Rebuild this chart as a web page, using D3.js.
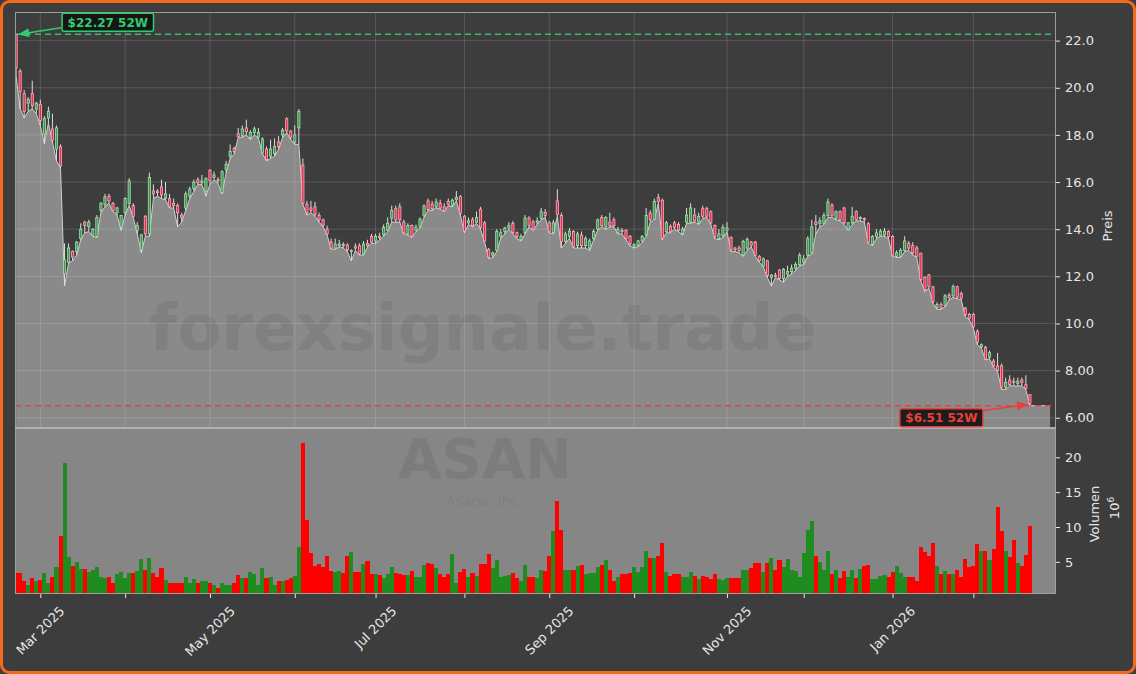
<!DOCTYPE html>
<meta charset="utf-8">
<style>
body { margin: 0; background: #3d3d3d; }
svg { display: block; font-family: "DejaVu Sans", sans-serif; }
.axis path { display: none; }
.axis line { stroke: #e6e6e6; }
.axis text { fill: #e6e6e6; font-size: 13px; font-family: "DejaVu Sans", sans-serif; }
</style>
<body>
<script src="https://cdn.jsdelivr.net/npm/d3@7"></script>
<script>
// ASAN daily bars, first session 2025-02-21
var startDate = "2025-02-21";
var holidays = ["2025-04-18","2025-05-26","2025-06-19","2025-07-04","2025-09-01",
  "2025-11-27","2025-12-25","2026-01-01","2026-01-19","2026-02-16"];

var open = [22.27,20.7,19.75,19.35,19.75,19.09,19.3,18.02,18.72,18.25,
17.4,17.5,12.1,12.6,13.05,13.06,13.6,14.3,14.1,13.75,
13.7,14.8,15.06,15.4,15.1,14.7,14.1,14.7,15.1,15.0,
13.95,13.13,14.55,13.8,15.62,15.62,15.8,15.3,15.3,15.1,
15.0,14.6,14.9,15.4,15.72,16.1,15.97,15.62,16.5,16.2,
16.1,15.56,16.53,17.1,17.42,18.05,17.98,18.3,17.9,18.1,
17.9,17.23,17.4,17.1,17.2,17.7,18.0,18.68,18.17,17.7,
18.3,16.72,15.06,14.9,14.95,14.58,14.4,14.0,13.45,13.2,
13.3,13.35,13.33,13.05,13.26,13.3,12.95,13.4,13.69,13.5,
13.7,13.76,13.95,14.47,14.87,14.95,14.3,13.8,14.16,13.95,
14.11,14.58,15.2,15.06,14.95,15.1,14.95,15.18,15.02,15.25,
15.38,14.55,14.27,14.4,14.3,14.85,14.27,13.13,12.9,13.1,
13.7,13.9,14.05,14.24,13.85,13.55,13.85,14.47,14.3,14.3,
14.47,14.71,14.27,13.85,15.2,14.58,13.48,13.7,13.9,13.3,
13.75,13.3,13.2,13.6,14.0,14.5,14.1,14.3,14.4,13.85,
13.95,13.95,13.7,13.25,13.3,13.5,13.76,14.68,14.43,15.34,
15.23,13.9,14.11,14.27,14.2,13.8,14.3,14.3,14.6,14.3,
14.87,14.87,14.74,14.16,13.6,13.73,13.95,13.64,13.2,13.2,
12.9,13.2,13.45,13.45,12.85,12.43,12.66,11.95,12.05,12.27,
11.9,12.1,12.2,12.35,12.5,12.6,12.9,13.0,14.3,14.25,
14.24,14.58,15.02,14.47,14.74,14.9,14.0,14.27,14.74,14.45,
14.45,14.23,13.37,13.69,13.73,13.76,13.9,13.69,12.85,12.85,
13.1,13.4,13.3,13.2,12.98,11.95,12.06,11.55,10.68,10.8,
10.77,11.2,11.17,11.56,11.27,10.65,10.38,10.38,9.67,9.0,
8.99,8.57,8.4,8.2,8.2,7.3,7.6,7.55,7.45,7.6,
7.4,6.98];

var high = [22.27,20.8,19.9,19.6,20.3,19.4,19.5,18.8,19.2,18.9,
18.4,17.6,13.4,13.4,13.1,13.5,14.25,14.35,14.4,14.05,
14.6,15.15,15.5,15.5,15.15,14.95,14.6,15.35,16.16,15.1,
14.3,13.8,14.6,16.4,15.9,15.7,16.1,16.0,15.5,15.3,
15.1,14.7,15.6,15.8,16.1,16.2,16.3,16.2,16.55,16.45,
16.2,16.5,16.9,17.6,17.5,18.3,18.4,18.65,18.2,18.35,
18.3,17.9,17.5,17.8,17.85,17.95,18.3,18.75,18.2,18.4,
19.1,17.0,15.2,15.2,15.15,14.7,14.45,14.15,13.6,13.6,
13.55,13.45,13.4,13.15,13.4,13.4,13.5,13.55,13.8,13.8,
13.85,14.2,14.5,15.0,15.0,15.1,14.4,14.25,14.2,14.2,
14.5,15.05,15.3,15.2,15.3,15.25,15.1,15.3,15.3,15.62,
15.45,14.6,14.5,14.5,14.75,14.95,14.35,13.2,13.05,14.0,
14.0,14.1,14.3,14.35,13.9,13.8,14.6,14.55,14.4,14.5,
14.9,14.85,14.35,14.4,15.7,14.7,13.9,14.05,13.95,13.9,
13.9,13.7,13.6,14.0,14.45,14.6,14.55,14.7,14.5,14.1,
14.05,14.0,13.75,13.4,13.55,13.75,14.9,14.8,15.3,15.5,
15.3,14.35,14.2,14.35,14.3,14.1,14.9,15.1,14.9,14.7,
15.0,14.95,14.8,14.2,14.0,14.2,14.3,13.7,13.25,13.3,
13.55,13.65,13.5,13.5,12.9,12.8,12.7,12.1,12.15,12.3,
12.35,12.45,12.5,12.6,13.0,12.9,13.7,14.4,14.6,14.5,
14.7,15.3,15.1,14.8,14.8,14.95,14.3,14.95,14.8,14.55,
14.5,14.3,13.75,14.0,14.0,14.05,13.95,13.75,13.1,13.2,
13.7,13.5,13.45,13.3,13.0,12.0,12.1,11.6,10.9,10.9,
11.25,11.3,11.65,11.6,11.35,10.7,10.45,10.45,9.75,9.15,
9.05,8.85,8.5,8.75,8.3,7.7,7.8,7.7,7.7,7.7,
7.8,7.0];

var low = [20.5,19.1,18.72,19.0,19.1,18.9,18.4,17.62,18.5,17.7,
16.9,16.6,11.59,12.55,12.66,12.9,13.55,13.85,13.9,13.7,
13.65,14.7,14.95,15.1,14.75,14.6,13.95,14.6,15.0,14.5,
13.8,13.0,13.7,13.7,15.3,15.4,15.3,15.25,14.9,14.9,
14.1,14.3,14.8,15.3,15.6,15.9,15.9,15.4,15.9,16.1,
15.95,15.5,16.4,17.0,17.2,17.9,17.9,18.0,17.8,18.0,
17.85,17.2,16.9,17.0,17.1,17.4,17.9,18.1,17.8,17.6,
17.6,15.05,14.6,14.7,14.55,14.3,14.1,13.75,13.15,13.15,
13.25,13.2,13.05,12.66,13.1,12.9,12.9,13.25,13.4,13.4,
13.55,13.7,13.9,14.3,14.3,14.3,13.8,13.75,13.65,13.9,
14.05,14.5,14.8,14.8,14.9,14.85,14.75,15.0,14.95,15.2,
14.6,13.85,14.2,14.1,14.25,14.0,13.45,12.75,12.8,13.05,
13.6,13.8,14.0,13.8,13.6,13.5,13.8,14.1,13.95,14.2,
14.4,14.5,13.85,13.8,14.55,13.2,13.4,13.6,13.2,13.2,
13.2,13.2,13.1,13.55,13.95,14.1,14.0,14.1,14.1,13.8,
13.8,13.55,13.3,13.2,13.25,13.45,13.7,14.3,14.4,15.1,
13.55,13.85,13.85,14.0,13.9,13.75,14.25,14.25,14.3,14.2,
14.45,14.5,14.2,13.6,13.55,13.65,13.9,13.05,13.05,13.0,
12.85,13.1,13.25,12.85,12.6,12.4,11.95,11.59,11.95,11.85,
11.75,12.0,12.1,12.25,12.45,12.5,12.85,12.95,13.8,14.1,
14.2,14.5,14.5,14.4,14.35,14.2,13.95,14.2,14.35,14.35,
14.3,13.4,13.3,13.6,13.7,13.7,13.6,12.85,12.8,12.8,
13.05,13.1,12.9,12.8,11.8,11.35,11.5,10.85,10.6,10.6,
10.7,11.0,11.1,11.05,11.0,10.3,10.15,9.8,9.1,8.95,
8.45,8.5,8.15,7.95,7.2,7.2,7.35,7.35,7.35,7.35,
7.2,6.51];

var close = [20.85,19.83,19.0,19.51,19.24,19.35,18.61,18.7,19.0,17.78,
18.3,16.68,12.7,13.2,12.82,13.45,14.0,14.16,14.3,14.0,
14.5,15.1,15.37,15.2,14.8,14.9,14.58,15.3,16.05,14.55,
14.15,13.76,13.8,16.2,15.5,15.55,15.45,15.5,14.95,15.0,
14.7,14.5,15.5,15.7,16.0,15.97,16.05,16.16,16.06,16.3,
16.06,16.44,16.75,17.3,17.3,17.94,18.25,18.14,18.1,18.25,
18.1,17.83,16.95,17.4,17.5,17.5,18.2,18.17,17.9,18.0,
19.0,15.1,14.7,14.8,14.63,14.4,14.16,13.8,13.2,13.37,
13.37,13.3,13.13,13.1,13.2,12.95,13.37,13.3,13.45,13.7,
13.65,14.08,14.25,14.79,14.4,14.4,13.85,14.16,13.7,14.08,
14.43,14.99,14.83,14.87,15.15,14.9,14.8,15.06,15.23,15.35,
14.68,13.92,14.36,14.16,14.5,14.08,13.5,12.82,13.0,13.9,
13.85,14.05,14.16,13.85,13.69,13.69,14.47,14.16,14.0,14.35,
14.74,14.58,13.9,14.27,14.63,13.48,13.8,13.92,13.26,13.8,
13.3,13.6,13.5,13.9,14.4,14.15,14.5,14.15,14.15,14.0,
13.9,13.6,13.37,13.35,13.5,13.69,14.58,14.4,15.18,15.18,
13.61,14.27,13.9,14.08,13.95,14.0,14.6,14.9,14.35,14.55,
14.55,14.55,14.27,13.69,13.8,14.08,14.05,13.13,13.13,13.1,
13.48,13.57,13.32,12.9,12.66,12.74,12.03,12.05,12.0,11.9,
12.3,12.2,12.35,12.5,12.9,12.75,13.6,14.1,14.2,14.35,
14.58,15.15,14.58,14.74,14.4,14.27,14.27,14.55,14.4,14.5,
14.4,13.45,13.69,13.84,13.92,13.92,13.69,12.9,13.0,13.1,
13.5,13.2,13.0,12.85,11.87,11.43,11.56,10.93,10.8,10.65,
11.17,11.1,11.56,11.12,11.08,10.38,10.22,9.86,9.2,9.1,
8.49,8.76,8.2,8.0,7.3,7.5,7.4,7.5,7.55,7.5,
7.25,6.6];

// volume in millions of shares
var volume = [3.4,3.4,2.3,1.65,2.75,2.3,2.45,3.44,2.0,2.9,
4.3,8.7,19.15,5.7,4.43,5.0,4.0,4.0,3.6,3.9,
4.3,2.9,2.75,2.9,2.0,3.3,3.6,2.75,3.44,3.44,
3.7,5.4,3.9,5.57,3.44,2.9,4.15,2.45,2.0,2.0,
1.9,1.9,2.9,2.0,2.6,1.9,2.2,2.3,1.9,1.75,
1.3,2.0,1.75,1.75,2.0,3.15,2.75,2.75,3.6,3.3,
1.75,4.15,2.75,2.9,1.75,2.3,2.3,2.45,2.75,3.0,
7.1,22.0,11.05,6.3,4.45,4.75,4.2,5.8,3.7,3.6,
3.7,3.4,5.8,6.4,3.5,3.6,4.7,5.1,3.3,3.3,
3.15,2.7,3.3,4.25,3.45,3.3,3.15,3.15,3.7,2.9,
2.9,4.5,4.8,4.7,4.1,3.3,2.8,3.3,6.1,2.0,
3.6,4.0,2.8,3.4,3.0,4.7,4.7,6.1,4.1,5.3,
2.8,3.0,3.15,3.4,2.7,2.3,4.5,2.9,2.9,2.7,
3.85,3.7,5.8,9.4,13.8,9.6,3.9,3.9,3.9,4.4,
4.6,3.2,3.4,3.45,4.25,4.6,5.2,3.85,2.3,2.8,
3.3,3.3,3.45,4.25,3.6,4.25,6.6,5.5,5.5,5.8,
7.65,3.5,3.0,3.3,3.2,2.8,2.8,3.5,3.0,2.5,
3.0,2.8,2.6,3.3,2.5,2.4,2.7,2.7,2.7,2.7,
3.85,3.85,4.1,4.9,4.9,3.6,4.9,5.5,3.85,5.2,
4.25,5.4,3.9,3.7,2.8,6.2,9.5,10.9,5.8,5.0,
3.9,6.55,3.3,3.85,2.7,3.7,2.8,3.85,2.7,4.0,
4.4,4.6,2.5,2.5,3.0,3.15,2.9,3.6,4.4,3.45,
2.8,2.8,2.8,2.3,7.1,6.45,5.8,7.7,4.4,3.2,
3.7,3.2,3.3,3.9,2.9,5.4,4.3,4.4,7.5,6.55,
6.55,5.3,6.85,12.8,9.4,6.55,5.7,8.1,4.9,4.4,
6.0,10.2];

var priceTicks = [6, 8, 10, 12, 14, 16, 18, 20, 22];
var volumeTicks = [5, 10, 15, 20];

// trading days
var fmtDay = d3.timeFormat("%Y-%m-%d");
var dates = [];
var dd = new Date(startDate + "T12:00:00");
while (dates.length < close.length) {
  var wd = dd.getDay();
  if (wd !== 0 && wd !== 6 && holidays.indexOf(fmtDay(dd)) < 0) dates.push(new Date(dd));
  dd.setDate(dd.getDate() + 1);
}
var n = close.length;
var idx = d3.range(n);
var monthIdx = idx.filter(function(i) { return i > 0 && dates[i].getMonth() !== dates[i - 1].getMonth(); });

var W = 1136, H = 674;
var plotL = 15, plotR = 1056, priceT = 12, priceB = 428, volB = 594;

var x = d3.scaleLinear().domain([-0.27, n + 5.46]).range([plotL, plotR]);
var lo = d3.min(low), hi = d3.max(high), pad = (hi - lo) * 0.06;
var y = d3.scaleLinear().domain([lo - pad, hi + pad]).range([priceB, priceT]);
var yv = d3.scaleLinear().domain([0.3 * d3.min(volume), 1.1 * d3.max(volume)]).range([volB, priceB]);
var iHi = high.indexOf(hi), iLo = low.indexOf(lo);
function up(i) { return close[i] >= open[i]; }

var svg = d3.select("body").append("svg").attr("width", W).attr("height", H);
svg.append("rect").attr("width", W).attr("height", H).attr("fill", "#3d3d3d");

var defs = svg.append("defs");
defs.append("clipPath").attr("id", "clipPrice").append("rect")
  .attr("x", plotL).attr("y", priceT).attr("width", plotR - plotL).attr("height", priceB - priceT);
defs.append("clipPath").attr("id", "clipVol").append("rect")
  .attr("x", plotL).attr("y", priceB).attr("width", plotR - plotL).attr("height", volB - priceB);
[["arrowG", "#2ecc71"], ["arrowR", "#e8403a"]].forEach(function(m) {
  defs.append("marker").attr("id", m[0]).attr("viewBox", "0 0 10 10").attr("refX", 9).attr("refY", 5)
    .attr("markerWidth", 7).attr("markerHeight", 7).attr("orient", "auto")
    .append("path").attr("d", "M0,1 L10,5 L0,9 z").attr("fill", m[1]);
});

// ---- price panel
var pg = svg.append("g").attr("clip-path", "url(#clipPrice)");

var areaPts = idx.map(function(i) { return [i, low[i]]; }).concat([[n - 1 + 5, low[n - 1]]]);
pg.append("path").datum(areaPts)
  .attr("d", d3.area().x(function(d) { return x(d[0]); }).y0(priceB).y1(function(d) { return y(d[1]); }))
  .attr("fill", "#8a8a8a");
pg.append("path").datum(areaPts)
  .attr("d", d3.line().x(function(d) { return x(d[0]); }).y(function(d) { return y(d[1]); }))
  .attr("fill", "none").attr("stroke", "#cfcfcf").attr("stroke-width", 1);

// grid
pg.selectAll("line.hg").data(priceTicks).join("line").attr("class", "hg")
  .attr("x1", plotL).attr("x2", plotR).attr("y1", function(d) { return y(d); }).attr("y2", function(d) { return y(d); })
  .attr("stroke", "#fff").attr("stroke-opacity", 0.14);
pg.selectAll("line.vg").data(monthIdx).join("line").attr("class", "vg")
  .attr("x1", function(i) { return x(i); }).attr("x2", function(i) { return x(i); })
  .attr("y1", priceT).attr("y2", priceB)
  .attr("stroke", "#fff").attr("stroke-opacity", 0.14);

pg.append("text").attr("x", 483).attr("y", 350).attr("text-anchor", "middle")
  .attr("font-size", 64).attr("font-weight", "bold").attr("fill", "#000").attr("fill-opacity", 0.07)
  .text("forexsignale.trade");

// 52W lines
pg.append("line").attr("x1", plotL).attr("x2", plotR).attr("y1", y(hi)).attr("y2", y(hi))
  .attr("stroke", "#3cb86a").attr("stroke-width", 1.5).attr("stroke-dasharray", "6,4");
pg.append("line").attr("x1", plotL).attr("x2", plotR).attr("y1", y(lo)).attr("y2", y(lo))
  .attr("stroke", "#dd4444").attr("stroke-width", 1.5).attr("stroke-dasharray", "6,4");

// candles
pg.selectAll("line.wick").data(idx).join("line").attr("class", "wick")
  .attr("x1", function(i) { return x(i); }).attr("x2", function(i) { return x(i); })
  .attr("y1", function(i) { return y(high[i]); }).attr("y2", function(i) { return y(low[i]); })
  .attr("stroke", "#dedede").attr("stroke-width", 1);
pg.selectAll("rect.body").data(idx).join("rect").attr("class", "body")
  .attr("x", function(i) { return x(i) - 1.1; }).attr("width", 2.2)
  .attr("y", function(i) { return y(Math.max(open[i], close[i])); })
  .attr("height", function(i) { return Math.max(1, Math.abs(y(open[i]) - y(close[i]))); })
  .attr("fill", function(i) { return up(i) ? "#4f8a5c" : "#e0304f"; })
  .attr("stroke", function(i) { return up(i) ? "#9be7a6" : "#ffa9bb"; })
  .attr("stroke-width", 0.8);

svg.append("rect").attr("x", plotL + 0.5).attr("y", priceT + 0.5)
  .attr("width", plotR - plotL - 1).attr("height", priceB - priceT - 1)
  .attr("fill", "none").attr("stroke", "#9c9c9c");

// ---- volume panel
svg.append("rect").attr("x", plotL).attr("y", priceB).attr("width", plotR - plotL).attr("height", volB - priceB)
  .attr("fill", "#868686");
var vg = svg.append("g").attr("clip-path", "url(#clipVol)");
vg.append("text").attr("x", 485).attr("y", 478).attr("text-anchor", "middle")
  .attr("font-size", 56).attr("font-weight", "bold").attr("fill", "#000").attr("fill-opacity", 0.07).text("ASAN");
vg.append("text").attr("x", 482).attr("y", 506).attr("text-anchor", "middle")
  .attr("font-size", 14).attr("fill", "#000").attr("fill-opacity", 0.07).text("Asana, Inc");
vg.selectAll("rect.vol").data(idx).join("rect").attr("class", "vol")
  .attr("x", function(i) { return x(i - 0.5); }).attr("width", x(1) - x(0))
  .attr("y", function(i) { return yv(volume[i]); })
  .attr("height", function(i) { return volB - yv(volume[i]); })
  .attr("fill", function(i) { return up(i) ? "#1f8c1f" : "#ff0000"; })
  .attr("shape-rendering", "crispEdges");
svg.append("rect").attr("x", plotL + 0.5).attr("y", priceB).attr("width", plotR - plotL - 1).attr("height", volB - priceB - 0.5)
  .attr("fill", "none").attr("stroke", "#a0a0a0");
svg.append("line").attr("x1", plotL).attr("x2", plotR).attr("y1", priceB).attr("y2", priceB)
  .attr("stroke", "#b0b0b0").attr("stroke-width", 2);

// ---- axes
svg.append("g").attr("class", "axis").attr("transform", "translate(" + plotR + ",0)")
  .call(d3.axisRight(y).tickValues(priceTicks).tickFormat(d3.format(".3r")).tickSize(4).tickPadding(5));
svg.append("g").attr("class", "axis").attr("transform", "translate(" + plotR + ",0)")
  .call(d3.axisRight(yv).tickValues(volumeTicks).tickFormat(d3.format("d")).tickSize(4).tickPadding(5));

var fmtMonth = d3.timeFormat("%b %Y");
var xg = svg.append("g").attr("class", "axis").attr("transform", "translate(0," + volB + ")")
  .call(d3.axisBottom(x).tickValues(monthIdx).tickFormat("").tickSize(4));
monthIdx.filter(function(i) { return dates[i].getMonth() % 2 === 0; }).forEach(function(i) {
  var t = xg.append("text").attr("text-anchor", "middle").attr("dominant-baseline", "central")
    .attr("fill", "#e6e6e6").attr("font-size", 13).text(fmtMonth(dates[i]));
  var len = t.node().getComputedTextLength();
  var cy = 10 + (len + 13) * 0.7071 / 2;
  t.attr("transform", "translate(" + x(i) + "," + cy + ") rotate(-45)");
});

svg.append("text").attr("transform", "translate(1112,226) rotate(-90)").attr("text-anchor", "middle")
  .attr("fill", "#e6e6e6").attr("font-size", 13).text("Preis");
svg.append("text").attr("transform", "translate(1099,514) rotate(-90)").attr("text-anchor", "middle")
  .attr("fill", "#e6e6e6").attr("font-size", 13).text("Volumen");
var off = svg.append("text").attr("transform", "translate(1119,508) rotate(-90)").attr("text-anchor", "middle")
  .attr("fill", "#e6e6e6").attr("font-size", 13);
off.append("tspan").text("10");
off.append("tspan").attr("baseline-shift", "super").attr("font-size", 9).text("6");

// ---- 52W labels
function tag(px, py, tx, ty, box, label, col, marker) {
  svg.append("line").attr("x1", tx).attr("y1", ty).attr("x2", px).attr("y2", py)
    .attr("stroke", col).attr("stroke-width", 1.6).attr("marker-end", "url(#" + marker + ")");
  var g = svg.append("g");
  var t = g.append("text").attr("font-size", 12).attr("font-weight", "bold").attr("fill", col).text(label);
  var w = t.node().getComputedTextLength() + 11;
  var bx = box[2] === "right" ? box[0] - w : box[0], by = box[1];
  g.insert("rect", "text").attr("x", bx).attr("y", by).attr("width", w).attr("height", 18).attr("rx", 2)
    .attr("fill", "#111").attr("fill-opacity", 0.9).attr("stroke", col).attr("stroke-width", 1.5);
  t.attr("x", bx + 5.5).attr("y", by + 13.5);
}
tag(x(iHi) + 3, y(hi), x(iHi) + 45, y(hi) - 6.5, [x(iHi) + 46, y(hi) - 21, "left"],
  "$" + hi.toFixed(2) + " 52W", "#2ecc71", "arrowG");
tag(x(iLo) - 3, y(lo) - 1, x(iLo) - 60, y(lo) + 6.5, [x(iLo) - 47, y(lo) + 3, "right"],
  "$" + lo.toFixed(2) + " 52W", "#e8403a", "arrowR");

// outer frame
svg.append("rect").attr("x", 1.5).attr("y", 1.5).attr("width", W - 3).attr("height", H - 3).attr("rx", 8)
  .attr("fill", "none").attr("stroke", "#f26a1b").attr("stroke-width", 3);
</script>
